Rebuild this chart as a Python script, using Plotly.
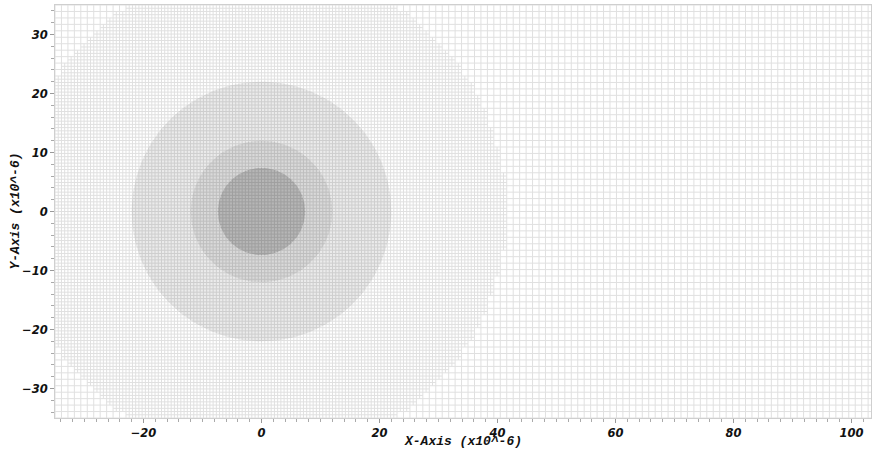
import numpy as np
import plotly.graph_objects as go

# ---- data ----
domain_min = -35.0          # mesh origin (both axes)
domain_len_y = 70.0
coarse_cells_y = 64
coarse_cells_x = 128
refine_radius = 41.5        # coarse cells whose centre lies inside are refined x2
circle_radii = [22.0, 12.0, 7.4]
circle_alpha = [0.08, 0.075, 0.16]
x_tick_vals = [-20, 0, 20, 40, 60, 80, 100]
y_tick_vals = [-30, -20, -10, 0, 10, 20, 30]
x_range = [-35.0, 103.3]
y_range = [-35.0, 35.0]

h = domain_len_y / coarse_cells_y
x_edges = domain_min + h * np.arange(coarse_cells_x + 1)
y_edges = domain_min + h * np.arange(coarse_cells_y + 1)
x_cent = domain_min + h * (np.arange(coarse_cells_x) + 0.5)
y_cent = domain_min + h * (np.arange(coarse_cells_y) + 0.5)

grid_color = "#e0e0e0"

# coarse grid lines
cx, cy = [], []
for xe in x_edges:
    cx += [xe, xe, None]; cy += [y_edges[0], y_edges[-1], None]
for ye in y_edges:
    cx += [x_edges[0], x_edges[-1], None]; cy += [ye, ye, None]

# fine grid lines inside refined region
fx, fy = [], []
for xc in x_cent:
    inside = y_cent[(xc**2 + y_cent**2) < refine_radius**2]
    if len(inside):
        fx += [xc, xc, None]; fy += [inside.min() - h/2, inside.max() + h/2, None]
for yc in y_cent:
    inside = x_cent[(x_cent**2 + yc**2) < refine_radius**2]
    if len(inside):
        fx += [inside.min() - h/2, inside.max() + h/2, None]; fy += [yc, yc, None]

fig = go.Figure()
fig.add_trace(go.Scatter(x=cx, y=cy, mode="lines", line=dict(color=grid_color, width=1),
                         hoverinfo="skip", showlegend=False))
fig.add_trace(go.Scatter(x=fx, y=fy, mode="lines", line=dict(color=grid_color, width=1),
                         hoverinfo="skip", showlegend=False))

t = np.linspace(0, 2*np.pi, 241)
for r, a in zip(circle_radii, circle_alpha):
    fig.add_trace(go.Scatter(x=r*np.cos(t), y=r*np.sin(t), mode="lines", fill="toself",
                             fillcolor=f"rgba(0,0,0,{a})", line=dict(width=0),
                             hoverinfo="skip", showlegend=False))

tickfont = dict(family="DejaVu Sans", size=11.5, color="#111", weight="bold", style="italic")
axis_common = dict(showgrid=False, zeroline=False, showline=True, linecolor="#cfcfcf",
                   linewidth=1, mirror=True, ticks="outside", ticklen=4, tickcolor="#999",
                   tickfont=tickfont)

fig.update_xaxes(range=x_range, tickvals=x_tick_vals,
                 minor=dict(dtick=2, tick0=0, ticks="outside", ticklen=3, tickcolor="#aaa", showgrid=False),
                 **axis_common)
fig.update_yaxes(range=y_range, tickvals=y_tick_vals,
                 minor=dict(dtick=2, tick0=0, ticks="outside", ticklen=3, tickcolor="#aaa", showgrid=False),
                 **axis_common)

titlefont = dict(family="Liberation Mono", size=13, color="#111", weight="bold", style="italic")
fig.update_layout(
    width=872, height=450,
    margin=dict(l=55, r=1, t=5, b=32),
    paper_bgcolor="white", plot_bgcolor="white",
    annotations=[
        dict(text="X-Axis (x10^-6)", x=0.5, y=0, xref="paper", yref="paper",
             yshift=-23, xanchor="center", yanchor="middle", showarrow=False, font=titlefont),
        dict(text="Y-Axis (x10^-6)", x=0, y=0.5, xref="paper", yref="paper",
             xshift=-40, xanchor="center", yanchor="middle", textangle=-90,
             showarrow=False, font=titlefont),
    ],
)

fig.write_html("out.html")
